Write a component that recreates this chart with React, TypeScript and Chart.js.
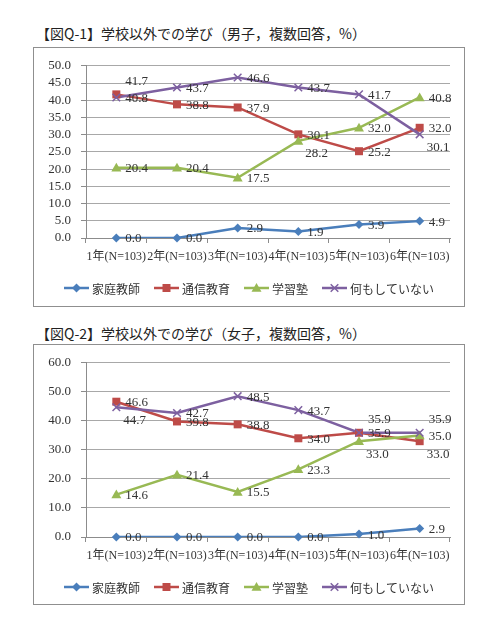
import React, { useEffect, useRef } from "react";
import { Chart, registerables } from "chart.js";

Chart.register(...registerables);

// ---------- data ----------
const CATEGORIES = ["1年(N=103)", "2年(N=103)", "3年(N=103)", "4年(N=103)", "5年(N=103)", "6年(N=103)"];
const SERIES_NAMES = ["家庭教師", "通信教育", "学習塾", "何もしていない"];

const BOYS_TITLE = "【図Q-1】学校以外での学び（男子，複数回答，%）";
const BOYS_TUTOR = [0.0, 0.0, 2.9, 1.9, 3.9, 4.9];
const BOYS_CORRESPONDENCE = [41.7, 38.8, 37.9, 30.1, 25.2, 32.0];
const BOYS_CRAM = [20.4, 20.4, 17.5, 28.2, 32.0, 40.8];
const BOYS_NOTHING = [40.8, 43.7, 46.6, 43.7, 41.7, 30.1];
const BOYS_Y_MAX = 50;
const BOYS_Y_STEP = 5;

const GIRLS_TITLE = "【図Q-2】学校以外での学び（女子，複数回答，%）";
const GIRLS_TUTOR = [0.0, 0.0, 0.0, 0.0, 1.0, 2.9];
const GIRLS_CORRESPONDENCE = [46.6, 39.8, 38.8, 34.0, 35.9, 33.0];
const GIRLS_CRAM = [14.6, 21.4, 15.5, 23.3, 33.0, 35.0];
const GIRLS_NOTHING = [44.7, 42.7, 48.5, 43.7, 35.9, 35.9];
const GIRLS_Y_MAX = 60;
const GIRLS_Y_STEP = 10;

// ---------- style ----------
const COLORS = ["#4a7ebb", "#be4b48", "#98b954", "#7d60a0"];
const MARKERS = ["diamond", "square", "triangle", "cross"];
const SERIF = "'Liberation Serif', 'Noto Sans CJK JP', serif";
const SANS = "'Noto Sans CJK JP', sans-serif";
const TEXT_COLOR = "#333333";
const GRID_COLOR = "#a8a8a8";
const AXIS_COLOR = "#8c8c8c";

// label placement per series/point: r = right, a = above-right, b = below-right
const BOYS_LABEL_POS = [
  ["r", "r", "r", "r", "r", "r"],
  ["a", "r", "r", "r", "r", "r"],
  ["r", "r", "r", "b", "r", "r"],
  ["r", "r", "r", "r", "r", "b"],
];
const GIRLS_LABEL_POS = [
  ["r", "r", "r", "r", "r", "r"],
  ["r", "r", "r", "r", "r", "b"],
  ["r", "r", "r", "r", "b", "r"],
  ["b", "r", "r", "r", "a", "a"],
];

function drawMarker(ctx: CanvasRenderingContext2D, kind: string, x: number, y: number, color: string) {
  ctx.save();
  ctx.fillStyle = color;
  ctx.strokeStyle = color;
  ctx.beginPath();
  if (kind === "diamond") {
    const r = 4.5;
    ctx.moveTo(x, y - r);
    ctx.lineTo(x + r, y);
    ctx.lineTo(x, y + r);
    ctx.lineTo(x - r, y);
    ctx.closePath();
    ctx.fill();
  } else if (kind === "square") {
    const s = 4;
    ctx.rect(x - s, y - s, 2 * s, 2 * s);
    ctx.fill();
  } else if (kind === "triangle") {
    const r = 5;
    ctx.moveTo(x, y - r);
    ctx.lineTo(x + r, y + r * 0.75);
    ctx.lineTo(x - r, y + r * 0.75);
    ctx.closePath();
    ctx.fill();
  } else {
    const r = 3.8;
    ctx.lineWidth = 1.5;
    ctx.moveTo(x - r, y - r);
    ctx.lineTo(x + r, y + r);
    ctx.moveTo(x + r, y - r);
    ctx.lineTo(x - r, y + r);
    ctx.stroke();
  }
  ctx.restore();
}

const markerPlugin = {
  id: "customMarkers",
  afterDatasetsDraw(chart: any) {
    const ctx = chart.ctx;
    const metas = chart.getSortedVisibleDatasetMetas().slice().reverse();
    metas.forEach((meta: any) => {
      const i = meta.index;
      meta.data.forEach((pt: any) => drawMarker(ctx, MARKERS[i], pt.x, pt.y, COLORS[i]));
    });
  },
};

function makeLabelPlugin(pos: string[][]) {
  return {
    id: "dataLabels",
    afterDatasetsDraw(chart: any) {
      const ctx = chart.ctx;
      ctx.save();
      ctx.font = `13px ${SERIF}`;
      ctx.fillStyle = TEXT_COLOR;
      ctx.textAlign = "left";
      ctx.textBaseline = "middle";
      chart.data.datasets.forEach((ds: any, i: number) => {
        const meta = chart.getDatasetMeta(i);
        meta.data.forEach((pt: any, j: number) => {
          const p = pos[i][j];
          let dx = 9, dy = 1;
          if (p === "a") { dx = 9; dy = -13; }
          if (p === "b") { dx = 7; dy = 13; }
          ctx.fillText(Number(ds.data[j]).toFixed(1), pt.x + dx, pt.y + dy);
        });
      });
      ctx.restore();
    },
  };
}

const legendPlugin = {
  id: "customLegend",
  afterDraw(chart: any) {
    const ctx = chart.ctx;
    ctx.save();
    ctx.font = `12px ${SANS}`;
    const lineLen = 25, gapText = 3, gapItem = 14;
    const widths = SERIES_NAMES.map((n) => ctx.measureText(n).width);
    const total = widths.reduce((a, w) => a + lineLen + gapText + w, 0) + gapItem * (SERIES_NAMES.length - 1);
    let x = chart.width / 2 - total / 2;
    const y = chart.chartArea.bottom + 50;
    SERIES_NAMES.forEach((n, i) => {
      ctx.strokeStyle = COLORS[i];
      ctx.lineWidth = 2.5;
      ctx.beginPath();
      ctx.moveTo(x, y);
      ctx.lineTo(x + lineLen, y);
      ctx.stroke();
      drawMarker(ctx, MARKERS[i], x + lineLen / 2, y, COLORS[i]);
      ctx.fillStyle = TEXT_COLOR;
      ctx.textAlign = "left";
      ctx.textBaseline = "middle";
      ctx.fillText(n, x + lineLen + gapText, y + 1);
      x += lineLen + gapText + widths[i] + gapItem;
    });
    ctx.restore();
  },
};

function makeConfig(series: number[][], yMax: number, yStep: number, pos: string[][], topPad: number, bottomPad: number): any {
  return {
    type: "line",
    data: {
      labels: CATEGORIES,
      datasets: series.map((d, i) => ({
        label: SERIES_NAMES[i],
        data: d,
        borderColor: COLORS[i],
        backgroundColor: COLORS[i],
        borderWidth: 2.5,
        tension: 0,
        pointRadius: 0,
        fill: false,
        order: series.length - 1 - i,
      })),
    },
    options: {
      responsive: false,
      animation: false,
      layout: { padding: { top: topPad, right: 14, bottom: bottomPad, left: 0 } },
      plugins: {
        legend: { display: false },
        tooltip: { enabled: false },
        title: { display: false },
      },
      scales: {
        x: {
          offset: true,
          grid: { offset: true, drawOnChartArea: false, drawTicks: true, tickLength: 5, color: AXIS_COLOR },
          border: { display: true, color: AXIS_COLOR },
          ticks: { font: { family: SERIF, size: 12 }, color: TEXT_COLOR, padding: 7, maxRotation: 0, minRotation: 0, autoSkip: false },
          afterFit: (s: any) => { s.height = 40; },
        },
        y: {
          min: 0,
          max: yMax,
          ticks: { stepSize: yStep, autoSkip: false, callback: (v: any) => Number(v).toFixed(1), padding: 10, font: { family: SERIF, size: 13 }, color: TEXT_COLOR },
          grid: { color: GRID_COLOR, tickLength: 5, drawTicks: true, tickColor: AXIS_COLOR },
          border: { display: true, color: AXIS_COLOR },
          afterFit: (s: any) => { s.width = 52; },
        },
      },
    },
    plugins: [markerPlugin, makeLabelPlugin(pos), legendPlugin],
  };
}

function LineChart(props: { series: number[][]; yMax: number; yStep: number; pos: string[][]; width: number; height: number; topPad: number; bottomPad: number }) {
  const ref = useRef<HTMLCanvasElement | null>(null);
  useEffect(() => {
    if (!ref.current) return;
    const chart = new Chart(ref.current, makeConfig(props.series, props.yMax, props.yStep, props.pos, props.topPad, props.bottomPad));
    return () => chart.destroy();
  }, []);
  return <canvas ref={ref} width={props.width} height={props.height} style={{ display: "block", width: props.width, height: props.height }} />;
}

const titleStyle: React.CSSProperties = {
  position: "absolute",
  left: 36,
  fontFamily: SANS,
  fontSize: 14,
  lineHeight: "20px",
  fontWeight: 400,
  color: "#222",
  whiteSpace: "nowrap",
};

const boxStyle: React.CSSProperties = {
  position: "absolute",
  left: 33,
  border: "1px solid #8f8f8f",
  background: "#fff",
};

export default function App() {
  return (
    <div style={{ position: "absolute", left: 0, top: 0, width: 500, height: 620, background: "#fff" }}>
      <div style={{ ...titleStyle, top: 23 }}>{BOYS_TITLE}</div>
      <div style={{ ...boxStyle, top: 47, width: 430, height: 258 }}>
        <LineChart
          series={[BOYS_TUTOR, BOYS_CORRESPONDENCE, BOYS_CRAM, BOYS_NOTHING]}
          yMax={BOYS_Y_MAX}
          yStep={BOYS_Y_STEP}
          pos={BOYS_LABEL_POS}
          width={430}
          height={258}
          topPad={13}
          bottomPad={28}
        />
      </div>
      <div style={{ ...titleStyle, top: 323 }}>{GIRLS_TITLE}</div>
      <div style={{ ...boxStyle, top: 344, width: 430, height: 259 }}>
        <LineChart
          series={[GIRLS_TUTOR, GIRLS_CORRESPONDENCE, GIRLS_CRAM, GIRLS_NOTHING]}
          yMax={GIRLS_Y_MAX}
          yStep={GIRLS_Y_STEP}
          pos={GIRLS_LABEL_POS}
          width={430}
          height={259}
          topPad={14}
          bottomPad={27}
        />
      </div>
    </div>
  );
}
